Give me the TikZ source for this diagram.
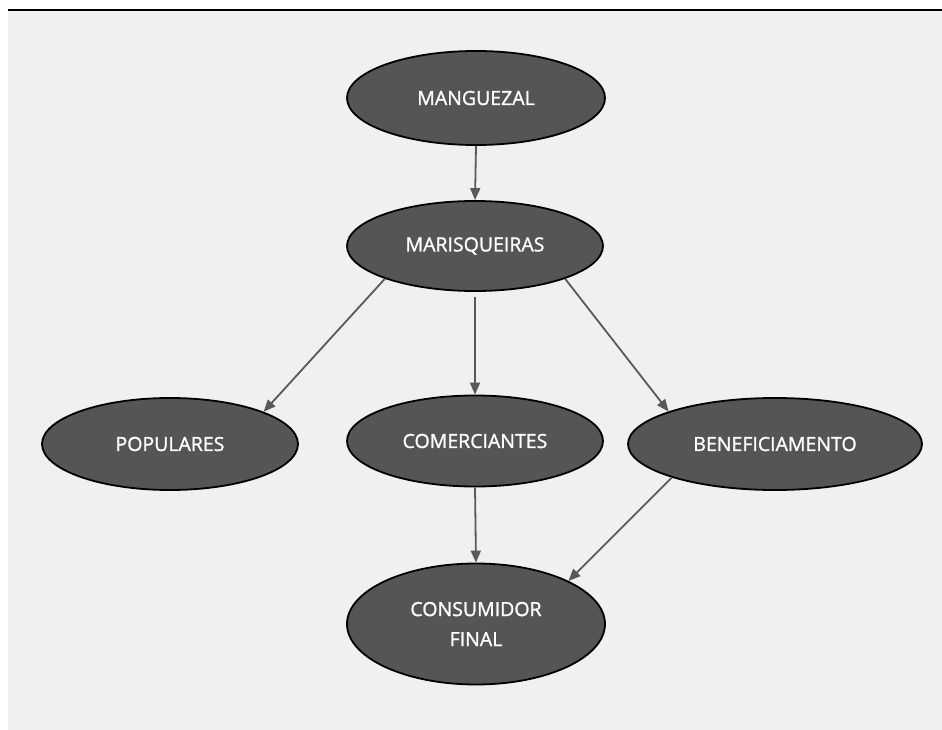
\documentclass[tikz,border=0pt]{standalone}
\usepackage{fontspec}
\setmainfont{Open Sans}
\newfontfamily\stagefont{Open Sans}[FakeBold=1.2]
\usetikzlibrary{shapes.geometric,arrows.meta}
\definecolor{panelgray}{RGB}{240,240,240}
\definecolor{nodegray}{RGB}{85,85,85}
\definecolor{linkgray}{RGB}{89,89,89}
\begin{document}
\begin{tikzpicture}[x=1pt,y=-1pt,
    stage/.style={ellipse,draw=black,line width=1.8pt,fill=nodegray,text=white,
      inner sep=0pt,align=center,font=\stagefont\fontsize{19.5}{30}\selectfont},
    link/.style={draw=linkgray,line width=1.8pt,-{Triangle[length=12pt,width=10pt]}}]
      \useasboundingbox (0,0) rectangle (942,730);
      \fill[panelgray] (8,11) rectangle (942,730);
      \draw[line width=2pt] (8,10) -- (942,10);
      \node[stage,minimum width=258pt,minimum height=94pt] (mang) at (476,98) {MANGUEZAL};
      \node[stage,minimum width=256pt,minimum height=90pt] (maris) at (475,246) {MARISQUEIRAS};
      \node[stage,minimum width=256pt,minimum height=92pt] (pop) at (170,444) {POPULARES};
      \node[stage,minimum width=256pt,minimum height=91pt] (com) at (475,441) {COMERCIANTES};
      \node[stage,minimum width=294pt,minimum height=92pt] (ben) at (775,444) {BENEFICIAMENTO};
      \node[stage,minimum width=258pt,minimum height=121pt] (cons) at (476,624) {CONSUMIDOR\\FINAL};
      \begin{scope}[link]
        \draw (mang.south) to (maris.north);
        \draw (maris.200) to (pop.19);
        \draw[shorten <=5pt] (maris.south) to (com.north);
        \draw (maris.340) to (ben.163);
        \draw (com.south) to (cons.north);
        \draw (ben.198) to (cons.25);
      \end{scope}
    \end{tikzpicture}
\end{document}
